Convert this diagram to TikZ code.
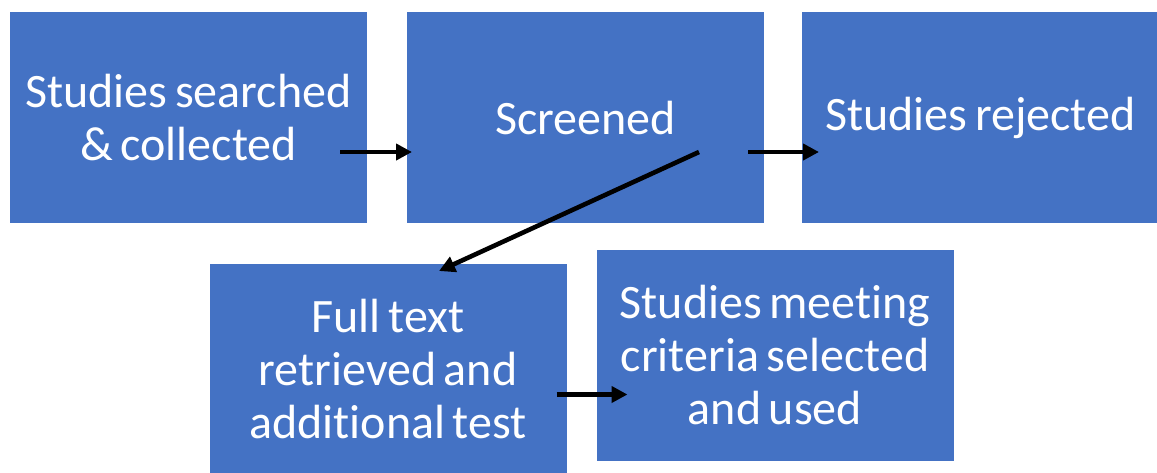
\documentclass[tikz,border=0pt]{standalone}
\usepackage{fontspec}
\setmainfont{Carlito}[Ligatures=NoCommon, WordSpace=0.7]
\usepackage{tikz}
\usetikzlibrary{arrows.meta,positioning,calc}
\definecolor{officeblue}{RGB}{68,114,196}
\tikzstyle{block} = [fill=officeblue, rectangle, text=white, align=center,
minimum height=211pt, minimum width=357pt, inner sep=0pt, outer sep=0pt,
font=\fontsize{48}{53}\selectfont]

\begin{document}
\begin{tikzpicture}[x=1pt, y=-1pt, >={Triangle[length=16pt,width=16pt]}, line width=4.6pt]
	\useasboundingbox (0,0) rectangle (1157,472);
	\node [block] at (188.5,117.5) (searched) {Studies searched\\\& collected};
	\node [block, right=40pt of searched] (screened) {Screened};
	\node [block, right=38pt of screened] (rejected) {Studies rejected};
	\node [block, below=41pt of searched, xshift=199.5pt] (fulltext) {Full text\\retrieved and\\additional test};
	\node [block, right=30pt of fulltext, yshift=14.5pt] (selected) {Studies meeting\\criteria selected\\and used};
	
	\draw [->] ($(searched.east)+(-27,34.5)$) -- ($(screened.west)+(5,34.5)$);
	\draw [->] ($(screened.east)+(-16,34.5)$) -- ($(rejected.west)+(17,34.5)$);
	\draw [->] ($(screened.east)+(-65,34.5)$) -- ($(fulltext.north)+(51,7)$);
	\draw [->] ($(fulltext.east)+(-10,25)$) -- ($(selected.west)+(31,39.5)$);
	
\end{tikzpicture}
\end{document}
